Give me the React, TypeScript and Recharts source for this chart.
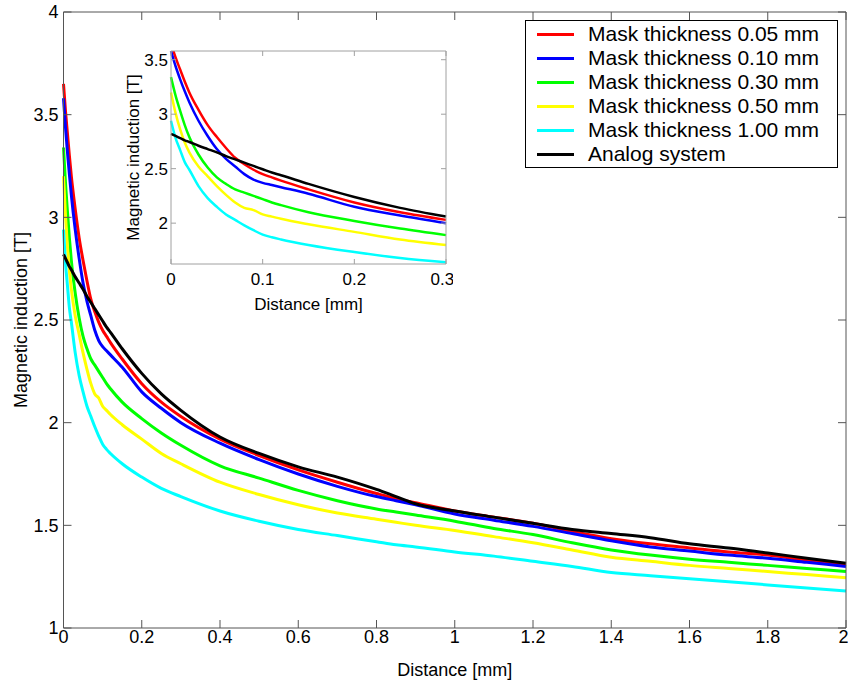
import React from 'react';
import { LineChart, Line, XAxis, YAxis, Legend } from 'recharts';

// distance along the surface [mm]
const distance = [
  0, 0.005, 0.01, 0.015, 0.02, 0.03, 0.04, 0.05, 0.06, 0.07, 0.08, 0.09, 0.1, 0.11, 0.12, 0.15, 0.2, 0.25,
  0.3, 0.4, 0.5, 0.6, 0.7, 0.8, 0.85, 0.9, 1.0, 1.1, 1.2, 1.3, 1.4, 1.5, 1.6, 1.7, 1.8, 1.9, 2.0,
];

// magnetic induction [T]
const mask005 = [
  3.65, 3.52, 3.41, 3.3, 3.2, 3.04, 2.9, 2.79, 2.69, 2.6, 2.54, 2.49, 2.45, 2.42, 2.39, 2.31, 2.19, 2.1,
  2.03, 1.92, 1.84, 1.77, 1.71, 1.655, 1.63, 1.61, 1.57, 1.54, 1.51, 1.47, 1.435, 1.41, 1.39, 1.37, 1.355, 1.33, 1.31,
];
const mask010 = [
  3.58, 3.44, 3.32, 3.21, 3.11, 2.94, 2.8, 2.68, 2.59, 2.52, 2.45, 2.4, 2.37, 2.35, 2.33, 2.27, 2.15, 2.07,
  2.0, 1.9, 1.82, 1.75, 1.69, 1.64, 1.62, 1.6, 1.555, 1.525, 1.495, 1.46, 1.425, 1.395, 1.375, 1.355, 1.34, 1.32, 1.3,
];
const mask030 = [
  3.34, 3.17, 3.03, 2.9, 2.79, 2.63, 2.51, 2.42, 2.36, 2.31, 2.28, 2.25, 2.22, 2.19, 2.165, 2.1, 2.02, 1.95,
  1.89, 1.79, 1.73, 1.67, 1.62, 1.58, 1.565, 1.55, 1.52, 1.485, 1.455, 1.415, 1.38, 1.355, 1.335, 1.32, 1.305, 1.29, 1.275,
];
const mask050 = [
  3.2, 3.01, 2.86, 2.74, 2.65, 2.52, 2.43, 2.34, 2.26, 2.19, 2.14, 2.12, 2.08, 2.06, 2.04, 1.99, 1.92, 1.85,
  1.8, 1.71, 1.65, 1.6, 1.56, 1.53, 1.515, 1.5, 1.475, 1.445, 1.415, 1.38, 1.345, 1.325, 1.305, 1.29, 1.275, 1.26, 1.245,
];
const mask100 = [
  2.94, 2.78, 2.67, 2.56, 2.49, 2.34, 2.23, 2.15, 2.08, 2.03, 1.98, 1.935, 1.895, 1.87, 1.85, 1.8, 1.735, 1.68,
  1.64, 1.57, 1.52, 1.48, 1.45, 1.42, 1.405, 1.395, 1.37, 1.35, 1.325, 1.3, 1.27, 1.255, 1.24, 1.225, 1.21, 1.195, 1.18,
];
const analog = [
  2.82, 2.8, 2.78, 2.76, 2.745, 2.71, 2.68, 2.65, 2.615, 2.585, 2.555, 2.525, 2.495, 2.465, 2.44, 2.36, 2.24, 2.14,
  2.06, 1.93, 1.85, 1.785, 1.735, 1.675, 1.64, 1.605, 1.57, 1.54, 1.51, 1.48, 1.46, 1.44, 1.41, 1.39, 1.365, 1.34, 1.315,
];

const seriesNames = [
  'Mask thickness 0.05 mm',
  'Mask thickness 0.10 mm',
  'Mask thickness 0.30 mm',
  'Mask thickness 0.50 mm',
  'Mask thickness 1.00 mm',
  'Analog system',
];
const seriesValues = [mask005, mask010, mask030, mask050, mask100, analog];
const seriesColors = ['#ff0000', '#0000ff', '#00ff00', '#ffff00', '#00ffff', '#000000'];

const mainXTicks = [0, 0.2, 0.4, 0.6, 0.8, 1, 1.2, 1.4, 1.6, 1.8, 2];
const mainYTicks = [1, 1.5, 2, 2.5, 3, 3.5, 4];
const insetXTicks = [0, 0.1, 0.2, 0.3];
const insetYTicks = [2, 2.5, 3, 3.5];

const rows = distance.map((x, i) => {
  const row: Record<string, number> = { x };
  seriesValues.forEach((s, k) => {
    row['s' + k] = s[i];
  });
  return row;
});
const insetRows = rows.filter((r) => r.x <= 0.3);

const FONT = '"Liberation Sans", Arial, Helvetica, sans-serif';
const blank = () => '';

// legend drawn from our own arrays so the order stays as in the figure
const renderLegend = () => (
  <div
    style={{
      border: '1px solid #000',
      background: '#fff',
      padding: '1px 0',
      boxSizing: 'border-box',
      width: 313,
      height: 148,
      fontFamily: FONT,
    }}
  >
    {seriesNames.map((name, k) => (
      <div key={name} style={{ display: 'flex', alignItems: 'center', height: 24 }}>
        <span style={{ display: 'inline-block', width: 37, height: 3, background: seriesColors[k], marginLeft: 11, marginRight: 14 }} />
        <span style={{ fontSize: 21, color: '#000', lineHeight: '24px', whiteSpace: 'nowrap' }}>{name}</span>
      </div>
    ))}
  </div>
);

function renderLines(width: number) {
  return seriesNames.map((name, k) => (
    <Line
      key={name}
      type="monotone"
      dataKey={'s' + k}
      name={name}
      stroke={seriesColors[k]}
      strokeWidth={width}
      dot={false}
      activeDot={false}
      isAnimationActive={false}
    />
  ));
}

function Inset() {
  const axisColor = '#a0a0a0';
  const tickStyle = { fill: '#000', fontSize: 17 };
  return (
    <div style={{ position: 'absolute', left: 118, top: 40, width: 335, height: 275, background: '#fff' }}>
      <LineChart width={335} height={275} data={insetRows} margin={{ top: 10, right: 6, bottom: 0, left: 0 }}>
        <XAxis
          dataKey="x"
          type="number"
          domain={[0, 0.3]}
          ticks={insetXTicks}
          height={51}
          tickSize={-5}
          tickMargin={14}
          stroke={axisColor}
          tick={tickStyle}
          label={{ value: 'Distance [mm]', position: 'insideBottom', offset: 5, fill: '#000', fontSize: 17 }}
        />
        <XAxis
          xAxisId="top"
          orientation="top"
          dataKey="x"
          type="number"
          domain={[0, 0.3]}
          allowDataOverflow
          ticks={insetXTicks}
          height={1}
          tickSize={-5}
          stroke={axisColor}
          tickFormatter={blank}
        />
        <YAxis
          type="number"
          domain={[1.625, 3.58]}
          allowDataOverflow
          ticks={insetYTicks}
          width={53}
          tickSize={-5}
          tickMargin={8}
          stroke={axisColor}
          tick={tickStyle}
          label={{
            value: 'Magnetic induction [T]',
            angle: -90,
            position: 'insideLeft',
            offset: 15,
            fill: '#000',
            fontSize: 17,
            style: { textAnchor: 'middle' },
          }}
        />
        <YAxis
          yAxisId="right"
          orientation="right"
          type="number"
          domain={[1.625, 3.58]}
          allowDataOverflow
          ticks={insetYTicks}
          width={1}
          tickSize={-5}
          stroke={axisColor}
          tickFormatter={blank}
        />
        {renderLines(2.5)}
      </LineChart>
    </div>
  );
}

export default function App() {
  const axisColor = '#555';
  const tickStyle = { fill: '#000', fontSize: 18 };
  return (
    <div style={{ position: 'absolute', left: 0, top: 0, width: 848, height: 681, background: '#fff', fontFamily: FONT, overflow: 'hidden' }}>
      <LineChart width={848} height={681} data={rows} margin={{ top: 11, right: 1, bottom: 0, left: 0 }}>
        <XAxis
          dataKey="x"
          type="number"
          domain={[0, 2]}
          ticks={mainXTicks}
          height={53}
          tickSize={-8}
          tickMargin={10}
          stroke={axisColor}
          tick={tickStyle}
          label={{ value: 'Distance [mm]', position: 'insideBottom', offset: 5, fill: '#000', fontSize: 18 }}
        />
        <XAxis
          xAxisId="top"
          orientation="top"
          dataKey="x"
          type="number"
          domain={[0, 2]}
          allowDataOverflow
          ticks={mainXTicks}
          height={1}
          tickSize={-8}
          stroke={axisColor}
          tickFormatter={blank}
        />
        <YAxis
          type="number"
          domain={[1, 4]}
          ticks={mainYTicks}
          width={63.5}
          tickSize={-8}
          tickMargin={13}
          stroke={axisColor}
          tick={tickStyle}
          label={{
            value: 'Magnetic induction [T]',
            angle: -90,
            position: 'insideLeft',
            offset: 21,
            fill: '#000',
            fontSize: 18,
            style: { textAnchor: 'middle' },
          }}
        />
        <YAxis
          yAxisId="right"
          orientation="right"
          type="number"
          domain={[1, 4]}
          allowDataOverflow
          ticks={mainYTicks}
          width={1}
          tickSize={-8}
          stroke={axisColor}
          tickFormatter={blank}
        />
        <Legend
          layout="vertical"
          align="center"
          verticalAlign="middle"
          content={renderLegend}
          wrapperStyle={{ left: 525, top: 20, width: 313, height: 148 }}
        />
        {renderLines(3)}
      </LineChart>
      <Inset />
    </div>
  );
}
